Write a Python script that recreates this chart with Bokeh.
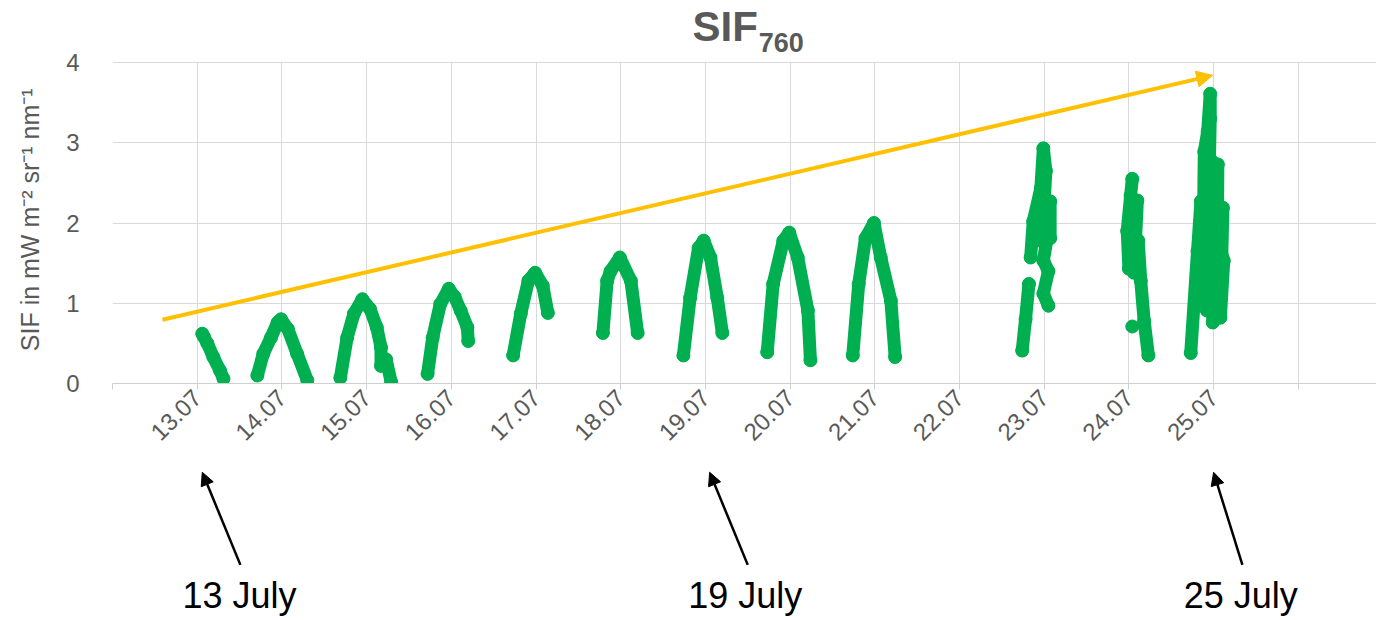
import math
from bokeh.plotting import figure
from bokeh.layouts import column
from bokeh.models import Arrow, NormalHead, Label, FixedTicker, Range1d, BoxAnnotation
from bokeh.embed import file_html
from bokeh.resources import INLINE

# ---- data (x in days of July, y in mW m-2 sr-1 nm-1) ----
day_ticks = [12, 13, 14, 15, 16, 17, 18, 19, 20, 21, 22, 23, 24, 25, 26]
day_labels = ["", "13.07", "14.07", "15.07", "16.07", "17.07", "18.07", "19.07",
              "20.07", "21.07", "22.07", "23.07", "24.07", "25.07", ""]
value_ticks = [0, 1, 2, 3, 4]

sif_time = [
    [13.06, 13.08, 13.12, 13.19, 13.27, 13.31],
    [13.71, 13.78, 13.87, 13.95, 13.99, 14.07, 14.18, 14.30],
    [14.69, 14.77, 14.85, 14.95, 15.04, 15.12, 15.17, 15.17, 15.23, 15.29],
    [15.72, 15.78, 15.87, 15.97, 16.04, 16.11, 16.19, 16.20],
    [16.73, 16.82, 16.91, 16.99, 17.08, 17.14],
    [17.79, 17.84, 17.88, 17.99, 18.12, 18.20],
    [18.74, 18.82, 18.92, 18.98, 19.06, 19.14, 19.20],
    [19.73, 19.80, 19.92, 19.99, 20.09, 20.21, 20.24],
    [20.74, 20.81, 20.89, 20.99, 21.07, 21.19, 21.24],
    [22.74, 22.78, 22.82],
    [22.84, 22.87, 22.96, 22.99, 23.02, 22.98, 23.07, 23.07, 22.91, 22.96, 23.03,
     22.99, 23.05, 22.99, 23.05],
    [24.04, 24.02, 23.98, 24.00, 24.06, 24.10, 24.06, 24.11, 24.14, 24.18, 24.23],
    [24.04],
    [24.73, 24.81, 24.85, 24.87, 24.89, 24.93, 24.96, 24.96, 24.92, 24.98, 24.99, 25.02,
     25.05, 25.04, 25.08, 25.11, 25.08, 25.12, 25.06, 25.00, 24.94, 24.88, 24.83, 24.90,
     25.01, 25.09],
]
sif_value = [
    [0.62, 0.58, 0.50, 0.33, 0.16, 0.06],
    [0.10, 0.37, 0.57, 0.76, 0.80, 0.68, 0.37, 0.04],
    [0.07, 0.57, 0.87, 1.05, 0.93, 0.70, 0.45, 0.22, 0.30, 0.02],
    [0.12, 0.57, 0.99, 1.18, 1.08, 0.91, 0.70, 0.53],
    [0.35, 0.87, 1.28, 1.38, 1.22, 0.88],
    [0.63, 1.28, 1.40, 1.57, 1.28, 0.63],
    [0.35, 1.07, 1.69, 1.78, 1.57, 1.07, 0.63],
    [0.39, 1.24, 1.78, 1.88, 1.57, 0.91, 0.29],
    [0.35, 1.24, 1.81, 2.00, 1.57, 1.03, 0.33],
    [0.41, 0.80, 1.24],
    [1.57, 2.02, 2.43, 2.93, 2.65, 1.90, 2.27, 1.81, 1.78, 2.15, 1.78,
     1.53, 1.40, 1.12, 0.97],
    [2.55, 2.34, 1.90, 1.43, 2.09, 2.28, 1.38, 1.78, 1.28, 0.78, 0.35],
    [0.71],
    [0.38, 1.65, 2.27, 1.03, 2.89, 3.14, 3.61, 3.30, 0.91, 2.77, 0.76, 2.65,
     2.73, 0.91, 2.15, 2.19, 0.82, 1.53, 1.78, 2.27, 1.78, 2.27, 1.16, 1.40,
     1.28, 1.28],
]

trend_start = [12.59, 0.795]
trend_end = [24.99, 3.84]

callout_names = ["13 July", "19 July", "25 July"]
callout_text_x = [13.50, 19.47, 25.32]
callout_tail_x = [13.51, 19.50, 25.34]
callout_head_x = [13.06, 19.05, 25.00]

FONT = "Liberation Sans"
GREEN = "#00B050"
GRAY = "#595959"
LEFT = 112
FRAME_W = 1264
PX_PER_UNIT = 80.25          # vertical scale shared by chart and callout panel
TOP_PAD = 62 / PX_PER_UNIT   # room above the value 4 for the title

x_range = Range1d(12, 12 + FRAME_W / 84.7)

# ---- main chart (frame covers page y 0..383, title sits above value 4) ----
p = figure(frame_width=FRAME_W, frame_height=383, output_backend="svg",
           toolbar_location=None, x_range=x_range,
           y_range=Range1d(0, value_ticks[-1] + TOP_PAD),
           min_border_left=LEFT, min_border_right=0, min_border_top=0,
           min_border_bottom=72)
p.outline_line_color = None

p.xgrid.ticker = FixedTicker(ticks=day_ticks)
p.ygrid.ticker = FixedTicker(ticks=value_ticks)
p.xgrid.grid_line_color = "#d9d9d9"
p.ygrid.grid_line_color = "#d9d9d9"
# keep the grid inside 0..4 only
p.add_layout(BoxAnnotation(bottom=value_ticks[-1] + 0.008, fill_color="white",
                           fill_alpha=1.0, line_color=None, level="underlay"))

xa = p.xaxis[0]
xa.ticker = FixedTicker(ticks=day_ticks)
xa.major_label_overrides = {t: l for t, l in zip(day_ticks, day_labels)}
xa.major_label_orientation = math.pi / 4
xa.major_label_text_font = FONT
xa.major_label_text_font_size = "24px"
xa.major_label_text_color = GRAY
xa.major_label_standoff = 4
xa.axis_line_color = "#d0d0d0"
xa.major_tick_line_color = "#d0d0d0"
xa.major_tick_out = 6
xa.major_tick_in = 0
xa.minor_tick_line_color = None

ya = p.yaxis[0]
ya.ticker = FixedTicker(ticks=value_ticks)
ya.axis_line_color = None
ya.major_tick_line_color = None
ya.minor_tick_line_color = None
ya.major_label_text_font = FONT
ya.major_label_text_font_size = "24px"
ya.major_label_text_color = GRAY
ya.major_label_standoff = 27
# trailing no-break spaces centre the label on the 0..4 part of the frame
ya.axis_label = "SIF in mW m\u207b\u00b2 sr\u207b\u00b9 nm\u207b\u00b9" + "\u00a0" * 8
ya.axis_label_text_font = FONT
ya.axis_label_text_font_size = "25px"
ya.axis_label_text_font_style = "normal"
ya.axis_label_text_color = GRAY
ya.axis_label_standoff = 19

p.multi_line(xs=sif_time, ys=sif_value, line_color=GREEN, line_width=13,
             line_join="round", line_cap="round")
flat_t = [t for seg in sif_time for t in seg]
flat_v = [v for seg in sif_value for v in seg]
p.scatter(flat_t, flat_v, size=13, fill_color=GREEN, line_color=GREEN)

p.add_layout(Arrow(end=NormalHead(size=16, fill_color="#FFC000", line_color="#FFC000"),
                   x_start=trend_start[0], y_start=trend_start[1],
                   x_end=trend_end[0], y_end=trend_end[1],
                   line_color="#FFC000", line_width=4))

# title SIF with subscript 760
p.add_layout(Label(x=19.62, y=4.449, text="SIF", text_align="right",
                   text_baseline="alphabetic", text_font=FONT, text_font_size="42px",
                   text_font_style="bold", text_color=GRAY))
p.add_layout(Label(x=19.63, y=4.243, text="760", text_align="left",
                   text_baseline="alphabetic", text_font=FONT, text_font_size="27px",
                   text_font_style="bold", text_color=GRAY))

# ---- callout panel (page y 455..618, same vertical scale as the chart) ----
pc = figure(frame_width=FRAME_W, frame_height=163, output_backend="svg",
            toolbar_location=None, x_range=x_range,
            y_range=Range1d((383 - 618) / PX_PER_UNIT, (383 - 455) / PX_PER_UNIT),
            min_border_left=LEFT, min_border_right=0, min_border_top=0,
            min_border_bottom=0, x_axis_location=None, y_axis_location=None)
pc.grid.visible = False
pc.outline_line_color = None
for name, tx, ax0, ax1 in zip(callout_names, callout_text_x, callout_tail_x, callout_head_x):
    pc.add_layout(Label(x=tx, y=-2.642, text=name, text_align="center",
                        text_baseline="alphabetic", text_font=FONT,
                        text_font_size="36px", text_color="black"))
    pc.add_layout(Arrow(end=NormalHead(size=13, fill_color="black", line_color="black"),
                        x_start=ax0, y_start=-2.26, x_end=ax1, y_end=-1.106,
                        line_color="black", line_width=2.5))

layout = column(p, pc, spacing=0)
open("out.html", "w").write(file_html(layout, INLINE))
